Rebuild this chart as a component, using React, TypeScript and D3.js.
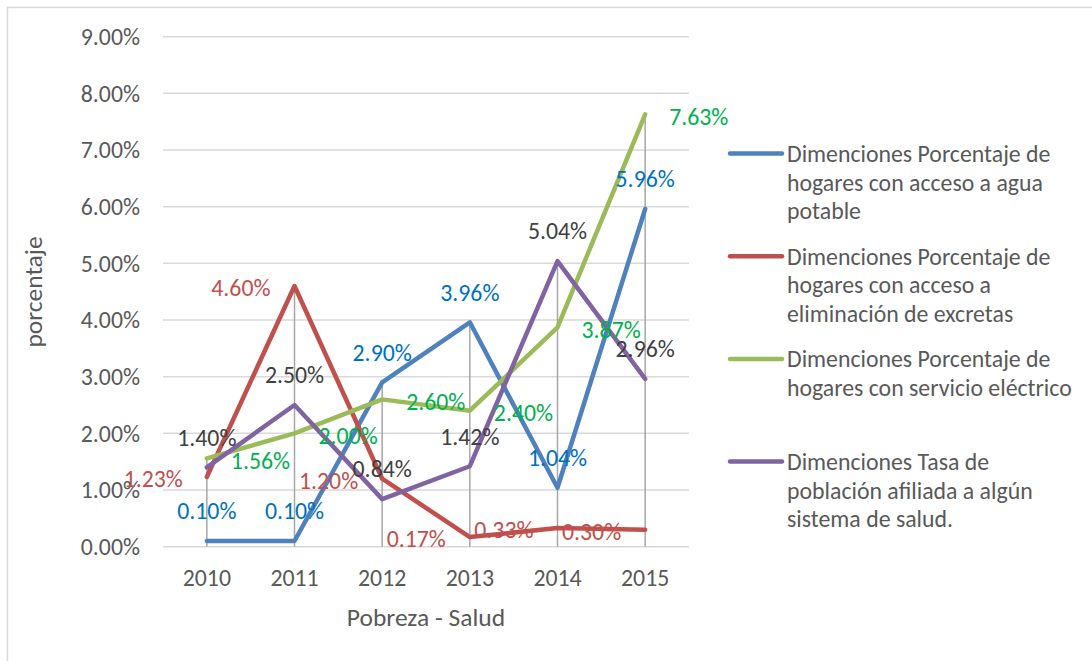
import React from "react";
import * as d3 from "d3";

const years = ["2010", "2011", "2012", "2013", "2014", "2015"];
const agua = [0.1, 0.1, 2.9, 3.96, 1.04, 5.96];
const excretas = [1.23, 4.6, 1.2, 0.17, 0.33, 0.3];
const electrico = [1.56, 2.0, 2.6, 2.4, 3.87, 7.63];
const salud = [1.4, 2.5, 0.84, 1.42, 5.04, 2.96];
const yTicks = [0, 1, 2, 3, 4, 5, 6, 7, 8, 9];
const legendLines = [
  ["Dimenciones Porcentaje de", "hogares con acceso a agua", "potable"],
  ["Dimenciones Porcentaje de", "hogares con acceso a", "eliminación de excretas"],
  ["Dimenciones Porcentaje de", "hogares con servicio eléctrico"],
  ["Dimenciones Tasa de", "población afiliada a algún", "sistema de salud."],
];

const FONT = "Carlito, Lato, 'Open Sans', sans-serif";

const series = [
  { values: agua, color: "#4F81BD", label: "#0070C0", pos: "above" },
  { values: excretas, color: "#C0504D", label: "#C0504D", pos: "left" },
  { values: electrico, color: "#9BBB59", label: "#00B050", pos: "right" },
  { values: salud, color: "#8064A2", label: "#404040", pos: "above" },
];

export default function App() {
  const W = 1092, H = 661;
  const x = d3.scaleBand().domain(years).range([163, 689]);
  const y = d3.scaleLinear().domain([0, 9]).range([546.7, 36.7]);
  const cx = (i: number) => (x(years[i]) as number) + x.bandwidth() / 2;
  const line = d3
    .line<number>()
    .x((_, i) => cx(i))
    .y((v) => y(v));
  const maxes = years.map((_, i) => Math.max(...series.map((s) => s.values[i])));
  const fs = 23.8;
  const tfs = 25.5;
  return (
    <div style={{ position: "absolute", left: 0, top: 0 }}>
      <svg width={W} height={H} style={{ display: "block", background: "#fff" }} fontFamily={FONT}>
        <rect x={7.5} y={7.5} width={1200} height={800} fill="none" stroke="#D9D9D9" strokeWidth={1.5} />
        {yTicks.map((t) => (
          <g key={t}>
            <line x1={163} x2={689} y1={y(t)} y2={y(t)} stroke="#D9D9D9" strokeWidth={1.5} />
            <text x={140} y={y(t)} dy="0.35em" textAnchor="end" fontSize={fs} fill="#595959">
              {t.toFixed(2) + "%"}
            </text>
          </g>
        ))}
        {years.map((yr, i) => (
          <g key={yr}>
            <line x1={cx(i)} x2={cx(i)} y1={y(maxes[i])} y2={y(0)} stroke="#A6A6A6" strokeWidth={1.5} />
            <text x={cx(i)} y={578} dy="0.35em" textAnchor="middle" fontSize={fs} fill="#595959">
              {yr}
            </text>
          </g>
        ))}
        {series.map((s, k) => (
          <path key={k} d={line(s.values) || ""} fill="none" stroke={s.color} strokeWidth={4.5} strokeLinejoin="round" strokeLinecap="round" />
        ))}
        {series.map((s, k) =>
          s.values.map((v, i) => {
            const px = cx(i), py = y(v);
            let tx = px, ty = py - 30, anchor = "middle";
            if (s.pos === "left") { tx = px - 24; ty = py + 2; anchor = "end"; }
            if (s.pos === "right") { tx = px + 24; ty = py + 2; anchor = "start"; }
            return (
              <text key={k + "-" + i} x={tx} y={ty} dy="0.35em" textAnchor={anchor} fontSize={fs} fill={s.label}>
                {v.toFixed(2) + "%"}
              </text>
            );
          })
        )}
        <text x={426} y={617} dy="0.35em" textAnchor="middle" fontSize={tfs} fill="#595959">
          Pobreza - Salud
        </text>
        <text transform="translate(33,292) rotate(-90)" dy="0.35em" textAnchor="middle" fontSize={tfs} fill="#595959">
          porcentaje
        </text>
        {legendLines.map((lines, k) => {
          const y0 = 153.5 + k * 102.7;
          return (
            <g key={k}>
              <line x1={730} x2={782} y1={y0} y2={y0} stroke={series[k].color} strokeWidth={4.5} strokeLinecap="round" />
              {lines.map((t, j) => (
                <text key={j} x={787} y={y0 + j * 28.7} dy="0.35em" fontSize={fs} fill="#595959">
                  {t}
                </text>
              ))}
            </g>
          );
        })}
      </svg>
    </div>
  );
}
